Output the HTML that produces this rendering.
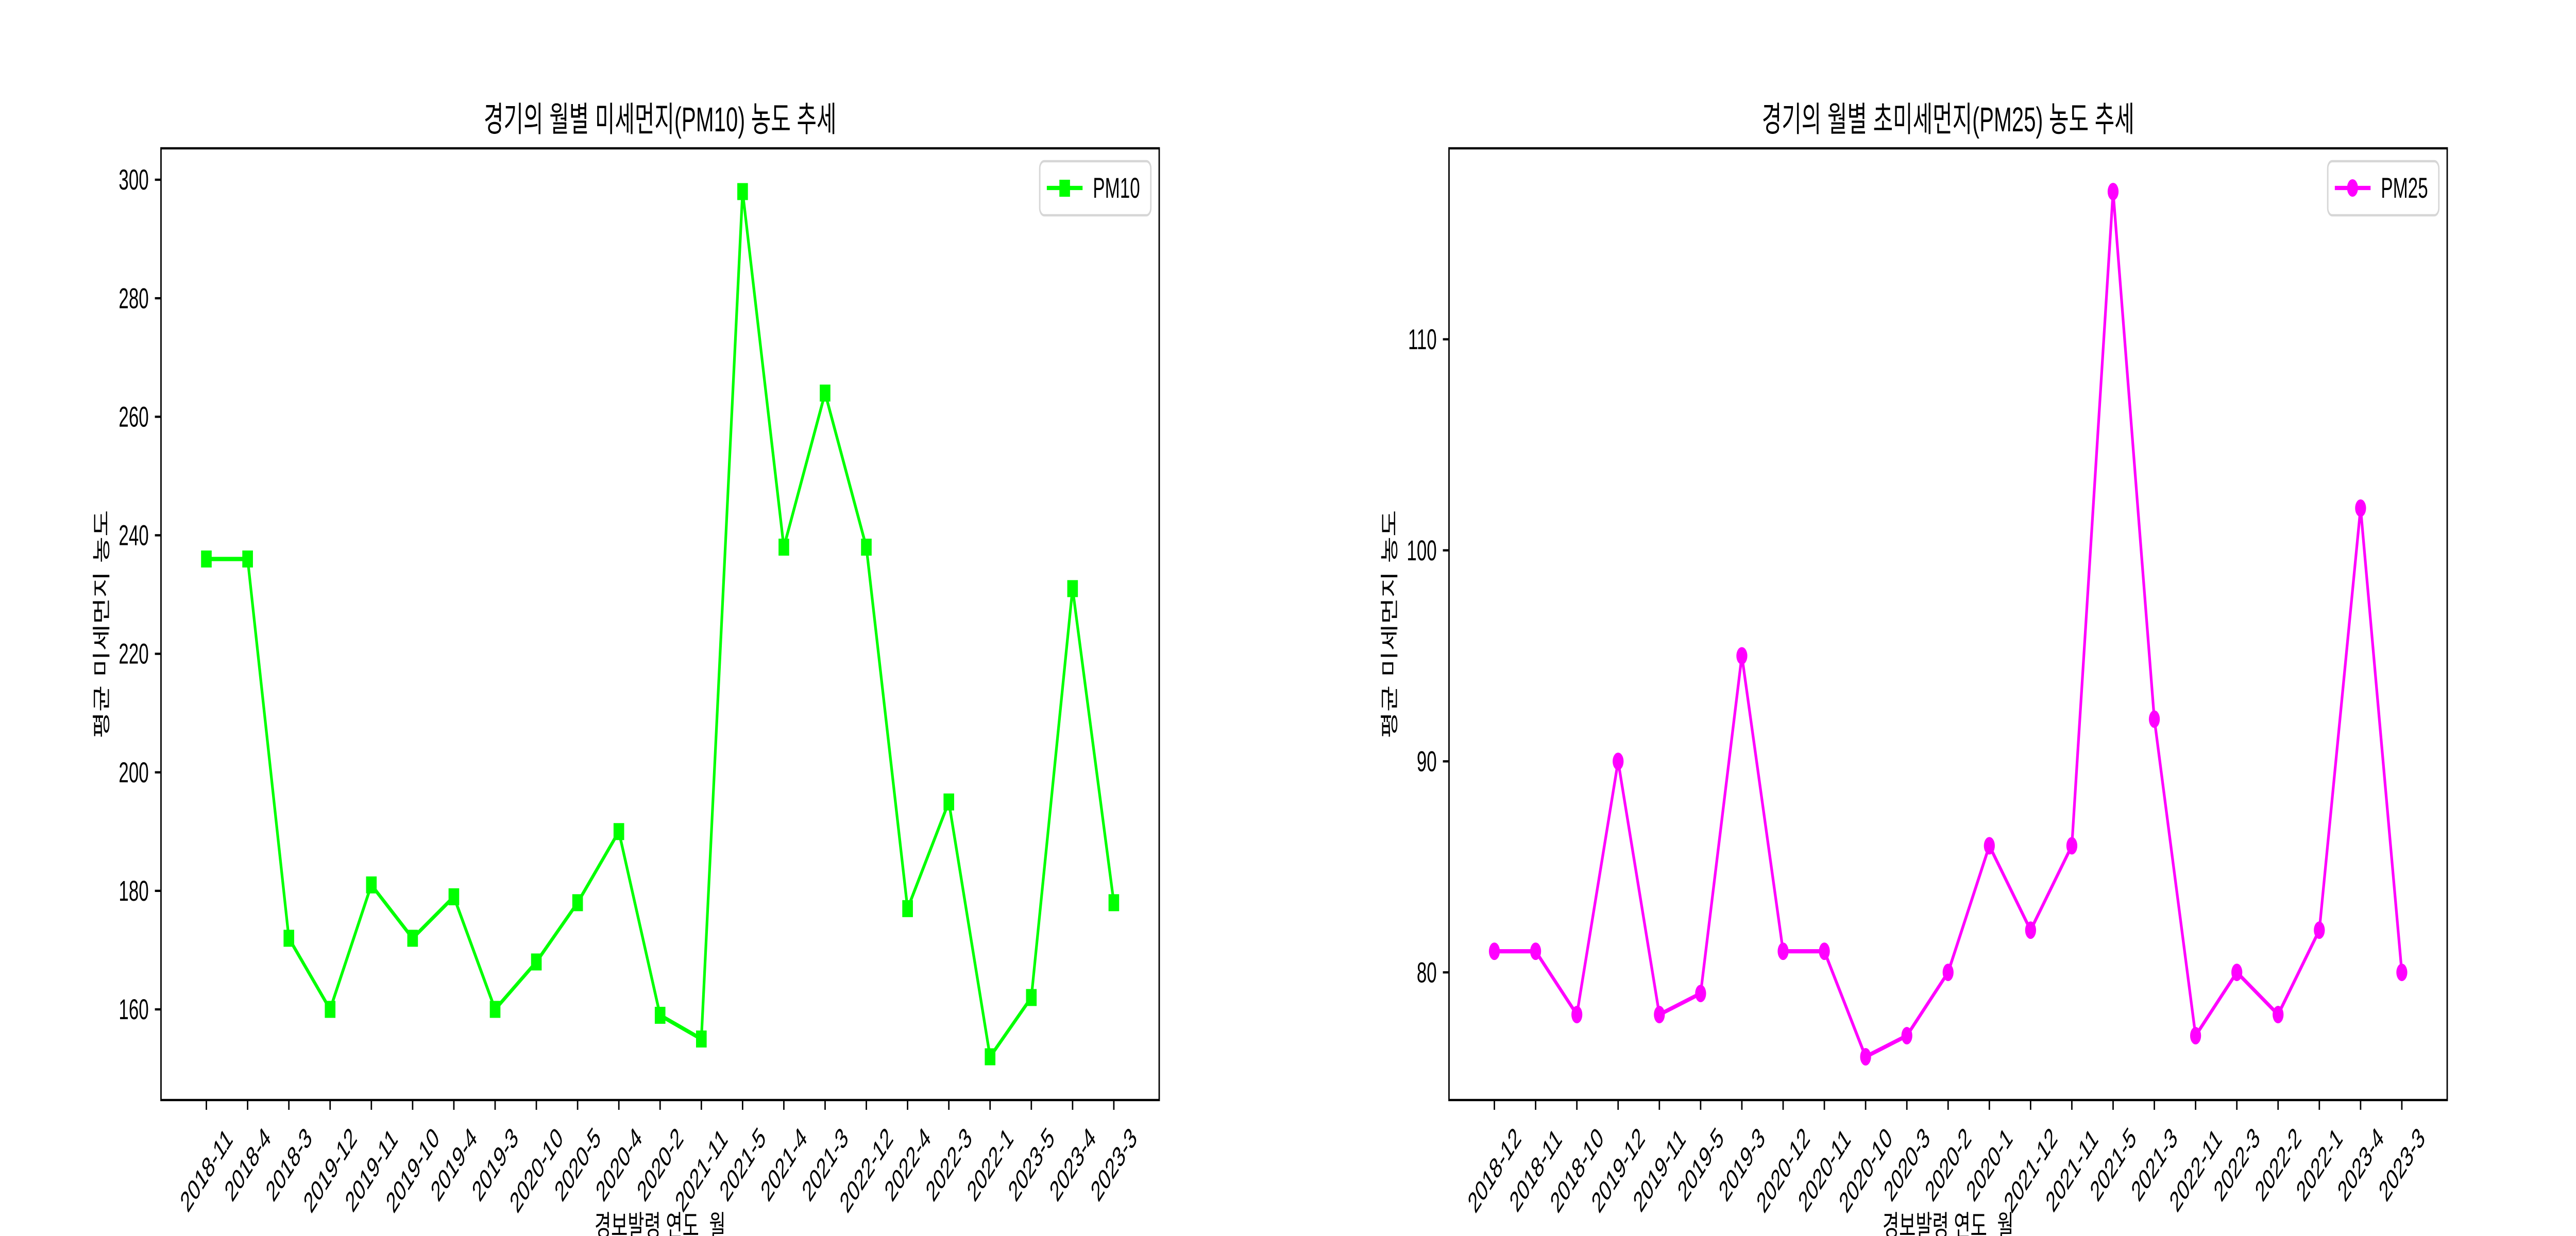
<!DOCTYPE html>
<html><head><meta charset="utf-8">
<style>
html,body{margin:0;padding:0;background:#fff;width:100%;height:100%;overflow:hidden;}
svg{display:block;width:100vw;height:100vh;font-family:"Liberation Sans","Noto Sans CJK KR",sans-serif;}
</style></head>
<body>
<svg id="fig" viewBox="0 0 8000 2400" preserveAspectRatio="none" xmlns="http://www.w3.org/2000/svg">
<rect width="8000" height="2400" fill="#fff"/>
</svg>
<script>
const pm10Categories = ["2018-11","2018-4","2018-3","2019-12","2019-11","2019-10","2019-4","2019-3","2020-10","2020-5","2020-4","2020-2","2021-11","2021-5","2021-4","2021-3","2022-12","2022-4","2022-3","2022-1","2023-5","2023-4","2023-3"];
const pm10Values = [236,236,172,160,181,172,179,160,168,178,190,159,155,298,238,264,238,177,195,152,162,231,178];
const pm10Ticks = [160,180,200,220,240,260,280,300];
const pm25Categories = ["2018-12","2018-11","2018-10","2019-12","2019-11","2019-5","2019-3","2020-12","2020-11","2020-10","2020-3","2020-2","2020-1","2021-12","2021-11","2021-5","2021-3","2022-11","2022-3","2022-2","2022-1","2023-4","2023-3"];
const pm25Values = [81,81,78,90,78,79,95,81,81,76,77,80,86,82,86,117,92,77,80,78,82,102,80];
const pm25Ticks = [80,90,100,110];

const NS = "http://www.w3.org/2000/svg";
const fig = document.getElementById('fig');
function el(tag, attrs, parent){
  const e = document.createElementNS(NS, tag);
  for (const k in attrs) e.setAttribute(k, attrs[k]);
  (parent||fig).appendChild(e);
  return e;
}

function drawPanel(opt){
  const L=opt.left, R=opt.right, T=288, B=2136;
  const g = el('g', {});
  
  
  const cats = opt.cats, vals = opt.vals;
  const n = cats.length;
  const vmin = Math.min(...vals), vmax = Math.max(...vals);
  const pad = (vmax - vmin)*0.05;
  const y0 = vmin - pad, y1 = vmax + pad;
  const x0 = -0.05*(n-1), x1 = (n-1)*1.05;
  const sx = i => L + (i - x0)/(x1 - x0)*(R-L);
  const sy = v => B - (v - y0)/(y1 - y0)*(B-T);

  const title = el('text', {x:(L+R)/2, y:255, 'text-anchor':'middle', 'font-size':67, fill:'#000'}, g);
  title.textContent = opt.title;
  
  

  opt.ticks.forEach(t=>{
    const y = sy(t);
    el('line', {x1:L-19, x2:L, y1:y, y2:y, stroke:'#000', 'stroke-width':4.4}, g);
    const tl = el('text', {x:L-38, y:y, 'text-anchor':'end', 'dominant-baseline':'central', 'font-size':56, fill:'#000'}, g);
    tl.textContent = t;
    
    
  });

  cats.forEach((c,i)=>{
    const x = sx(i);
    el('line', {x1:x, x2:x, y1:B, y2:B+19, stroke:'#000', 'stroke-width':4.4}, g);
    const tg = el('g', {}, g);
    const tl = el('text', {x:0, y:0, 'text-anchor':'middle', 'dominant-baseline':'central', 'font-size':56, fill:'#000'}, tg);
    tl.textContent = c;
    
    
    const len = c.length*31;
    const half = (len + 60)*0.7071/2;
    tg.setAttribute('transform', `translate(${x},${B+38+half}) rotate(-45)`);
  });

  const xl = el('text', {x:(L+R)/2, y:2400, 'text-anchor':'middle', 'font-size':56, fill:'#000'}, g);
  xl.textContent = '경보발령 연도_월';
  
  
  const yl = el('text', {x:0, y:0, 'text-anchor':'middle', 'font-size':56, fill:'#000', transform:`translate(${L-165},${(T+B)/2}) rotate(-90)`}, g);
  yl.textContent = '평균 미세먼지 농도';
  
  

  const pts = vals.map((v,i)=>`${sx(i)},${sy(v)}`).join(' ');
  const line = el('polyline', {points:pts, fill:'none', stroke:opt.color, 'stroke-width':8.3, 'stroke-linejoin':'round'}, g);
  
  
  vals.forEach((v,i)=>{
    let m;
    if (opt.marker==='square') m = el('rect', {x:sx(i)-16.5, y:sy(v)-16.5, width:33, height:33, fill:opt.color}, g);
    else m = el('circle', {cx:sx(i), cy:sy(v), r:17, fill:opt.color}, g);
    
    
  });

  el('rect', {x:L, y:T, width:R-L, height:B-T, fill:'none', stroke:'#000', 'stroke-width':4.4}, g);

  const lg = el('g', {}, g);
  
  
  const lx = R-371, ly = 313;
  el('rect', {x:lx, y:ly, width:345, height:105, rx:14, fill:'#fff', 'fill-opacity':0.8, stroke:'#d6d6d6', 'stroke-width':4.4}, lg);
  el('line', {x1:lx+22, x2:lx+133, y1:ly+52, y2:ly+52, stroke:opt.color, 'stroke-width':8.3}, lg);
  if (opt.marker==='square') el('rect', {x:lx+61, y:ly+36, width:33, height:33, fill:opt.color}, lg);
  else el('circle', {cx:lx+77, cy:ly+52, r:17, fill:opt.color}, lg);
  const lt = el('text', {x:lx+165, y:ly+52, 'dominant-baseline':'central', 'font-size':56, fill:'#000'}, lg);
  lt.textContent = opt.label;
  
  
}

drawPanel({name:'pm10-chart', left:500, right:3600, cats:pm10Categories, vals:pm10Values, ticks:pm10Ticks, color:'#00ff00', marker:'square', label:'PM10', title:'경기의 월별 미세먼지(PM10) 농도 추세'});
drawPanel({name:'pm25-chart', left:4500, right:7600, cats:pm25Categories, vals:pm25Values, ticks:pm25Ticks, color:'#ff00ff', marker:'circle', label:'PM25', title:'경기의 월별 초미세먼지(PM25) 농도 추세'});
</script>
</body></html>
